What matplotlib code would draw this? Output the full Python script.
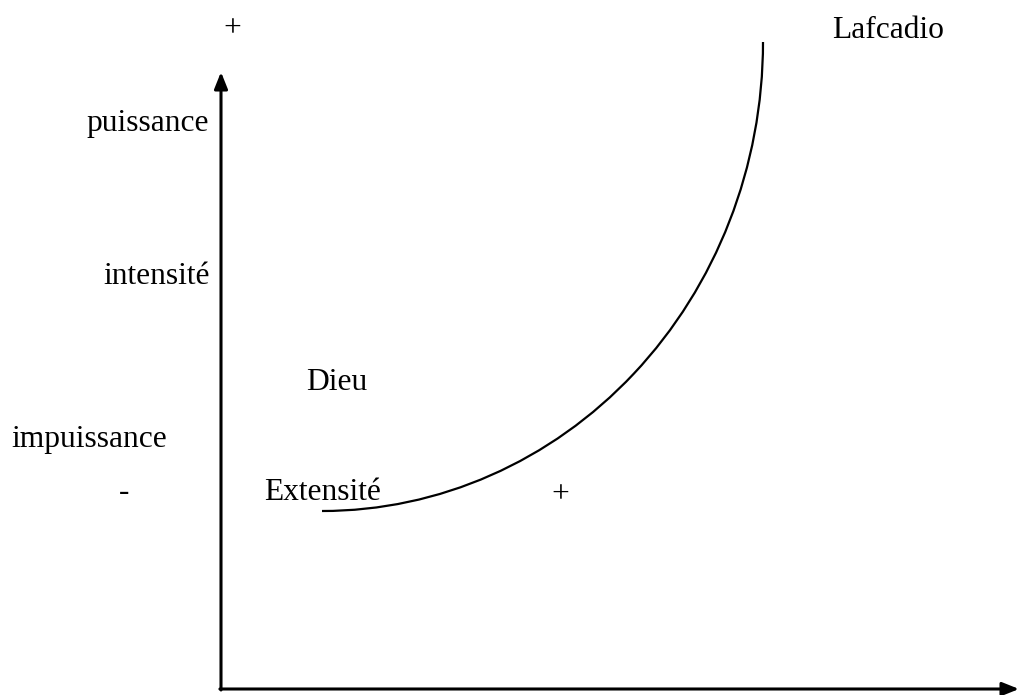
import matplotlib.pyplot as plt
from matplotlib.patches import Arc

plt.rcParams['font.family'] = ['Liberation Serif', 'DejaVu Serif']

# the curve is a quarter ellipse (pixel-like coordinates, y downward)
arc_center = (322, 42)
arc_width = 882
arc_height = 938

# labels: text, x, y, horizontal alignment
labels = ['+', 'Lafcadio', 'puissance', 'intensité', 'Dieu', 'impuissance', '-', 'Extensité', '+']
label_x = [232, 832, 209, 210, 306, 11, 124, 264, 560]
label_y = [29, 30, 123, 276, 383, 439, 493, 492, 495]
label_ha = ['center', 'left', 'right', 'right', 'left', 'left', 'center', 'left', 'center']

fig = plt.figure(figsize=(10.19, 6.95), dpi=100)
ax = fig.add_axes([0, 0, 1, 1])
ax.set_xlim(0, 1019)
ax.set_ylim(695, 0)
ax.axis('off')

# axes arrows
ax.annotate('', xy=(221, 72), xytext=(221, 690),
            arrowprops=dict(arrowstyle='-|>,head_length=1.0,head_width=0.4',
                            lw=2.2, color='black', shrinkA=0, shrinkB=0))
ax.annotate('', xy=(1019, 689), xytext=(219.9, 689),
            arrowprops=dict(arrowstyle='-|>,head_length=1.0,head_width=0.4',
                            lw=2.2, color='black', shrinkA=0, shrinkB=0))

ax.add_patch(Arc(arc_center, arc_width, arc_height, theta1=0, theta2=90,
                 color='black', lw=1.6))

for t, x, y, ha in zip(labels, label_x, label_y, label_ha):
    ax.text(x, y, t, ha=ha, va='center', fontsize=22.7)

fig.savefig('out.png', dpi=100)
